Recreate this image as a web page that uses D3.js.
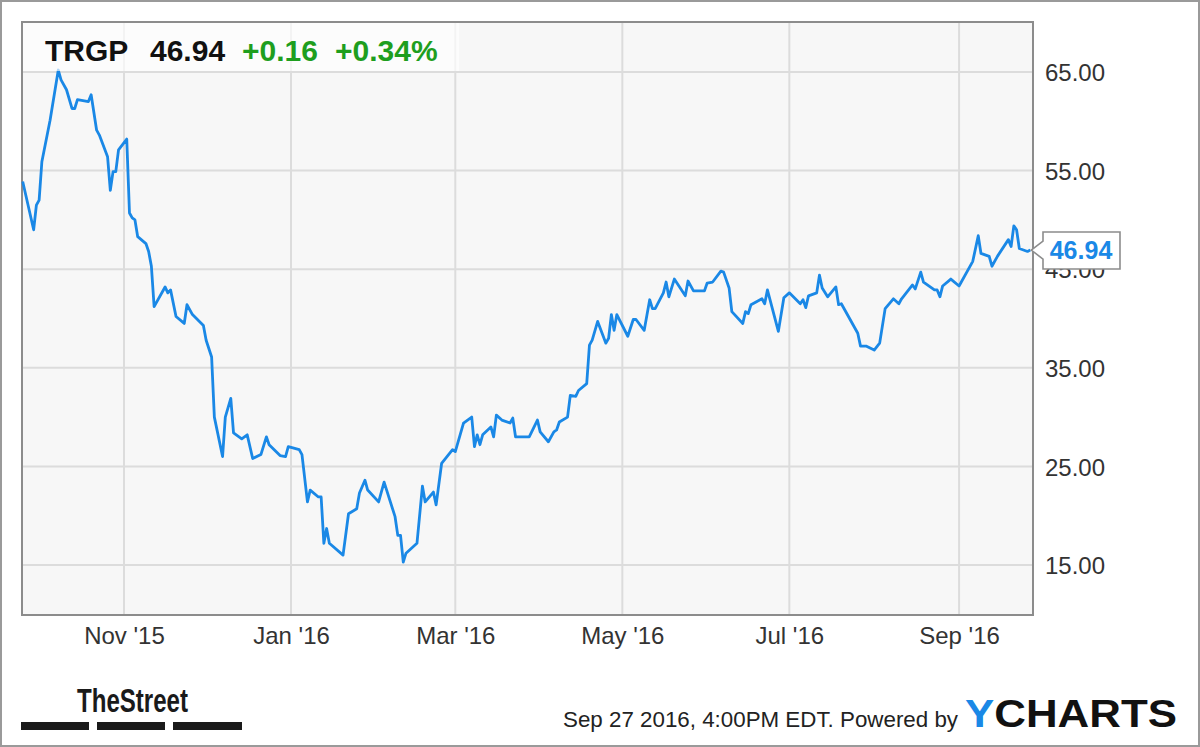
<!DOCTYPE html>
<html>
<head>
<meta charset="utf-8">
<script src="https://cdn.jsdelivr.net/npm/d3@7"></script>
<style>
  html, body { margin: 0; padding: 0; background: #fff; }
  svg { display: block; }
  text { font-family: "Liberation Sans", Arial, Helvetica, sans-serif; }
</style>
</head>
<body>
<svg id="chart" width="1200" height="747"></svg>
<script>
// ---- data ----
const ticker = "TRGP";
const lastPrice = "46.94";
const change = "+0.16";
const changePct = "+0.34%";
const timestamp = "Sep 27 2016, 4:00PM EDT.";
const poweredBy = "Powered by";

const dates = [
"2015-09-25","2015-09-29","2015-09-30","2015-10-01","2015-10-02","2015-10-05","2015-10-08","2015-10-09","2015-10-11","2015-10-13",
"2015-10-14","2015-10-15","2015-10-19","2015-10-20","2015-10-22","2015-10-23","2015-10-26","2015-10-27","2015-10-28","2015-10-29",
"2015-10-30","2015-11-02","2015-11-03","2015-11-04","2015-11-05","2015-11-06","2015-11-09","2015-11-10","2015-11-11","2015-11-12",
"2015-11-16","2015-11-17","2015-11-18","2015-11-20","2015-11-23","2015-11-24","2015-11-26","2015-11-30","2015-12-01","2015-12-03",
"2015-12-04","2015-12-07","2015-12-08","2015-12-10","2015-12-11","2015-12-14","2015-12-16","2015-12-18","2015-12-21","2015-12-23",
"2015-12-24","2015-12-28","2015-12-30","2015-12-31","2016-01-04","2016-01-05","2016-01-07","2016-01-08","2016-01-11","2016-01-12",
"2016-01-13","2016-01-14","2016-01-15","2016-01-20","2016-01-22","2016-01-25","2016-01-26","2016-01-28","2016-01-29","2016-02-02",
"2016-02-04","2016-02-08","2016-02-09","2016-02-10","2016-02-11","2016-02-12","2016-02-16","2016-02-18","2016-02-19","2016-02-22",
"2016-02-23","2016-02-25","2016-02-29","2016-03-01","2016-03-04","2016-03-07","2016-03-08","2016-03-09","2016-03-10","2016-03-11",
"2016-03-14","2016-03-15","2016-03-16","2016-03-18","2016-03-21","2016-03-22","2016-03-23","2016-03-28","2016-03-31","2016-04-01",
"2016-04-04","2016-04-06","2016-04-07","2016-04-08","2016-04-11","2016-04-12","2016-04-14","2016-04-15","2016-04-18","2016-04-19",
"2016-04-20","2016-04-22","2016-04-25","2016-04-26","2016-04-27","2016-04-28","2016-04-29","2016-05-03","2016-05-05","2016-05-06",
"2016-05-09","2016-05-11","2016-05-12","2016-05-13","2016-05-16","2016-05-17","2016-05-18","2016-05-20","2016-05-24","2016-05-25",
"2016-05-27","2016-05-31","2016-06-01","2016-06-03","2016-06-06","2016-06-07","2016-06-09","2016-06-10","2016-06-14","2016-06-15",
"2016-06-16","2016-06-17","2016-06-21","2016-06-22","2016-06-23","2016-06-27","2016-06-29","2016-07-01","2016-07-05","2016-07-06",
"2016-07-07","2016-07-08","2016-07-11","2016-07-12","2016-07-13","2016-07-15","2016-07-18","2016-07-19","2016-07-20","2016-07-26",
"2016-07-27","2016-07-29","2016-08-01","2016-08-03","2016-08-05","2016-08-08","2016-08-10","2016-08-11","2016-08-15","2016-08-16",
"2016-08-18","2016-08-19","2016-08-23","2016-08-24","2016-08-25","2016-08-26","2016-08-29","2016-09-01","2016-09-06","2016-09-08",
"2016-09-09","2016-09-12","2016-09-13","2016-09-15","2016-09-19","2016-09-20","2016-09-21","2016-09-22","2016-09-23","2016-09-26",
"2016-09-27"
];

const prices = [
53.9,49.0,51.5,52.0,55.9,60.1,65.2,64.2,63.2,61.3,
61.3,62.2,62.0,62.7,59.1,58.6,56.4,53.0,54.9,54.9,
57.1,58.2,50.7,50.2,50.0,48.3,47.6,46.8,45.3,41.2,
43.2,42.6,42.9,40.2,39.5,41.4,40.4,39.3,37.8,36.1,
30.0,26.0,30.0,31.9,28.4,27.8,28.2,25.8,26.2,28.0,
27.2,26.1,26.0,27.0,26.7,26.2,21.4,22.6,21.9,21.9,
17.2,18.7,17.2,16.0,20.2,20.7,22.3,23.6,22.6,21.4,
23.4,19.9,18.0,18.0,15.3,16.2,17.2,23.0,21.4,22.4,
21.1,25.3,26.7,26.5,29.4,30.0,27.0,28.2,27.2,28.2,
29.0,28.0,30.2,29.7,29.4,29.9,28.0,28.0,29.7,28.5,
27.5,28.5,28.7,29.5,30.0,32.2,32.1,32.7,33.4,37.3,
37.8,39.7,37.5,38.0,40.4,38.8,40.4,38.2,39.9,39.9,
38.8,41.9,41.0,41.0,42.6,43.7,42.2,44.0,42.3,43.8,
42.8,42.8,43.6,43.7,44.8,44.7,43.1,40.7,39.5,40.7,
40.5,41.4,42.0,41.5,42.9,38.7,42.1,42.6,41.5,41.9,
41.1,42.3,42.6,44.4,43.1,42.2,43.2,41.4,41.5,38.5,
37.2,37.2,36.8,37.5,41.0,42.0,41.5,42.0,43.4,43.0,
44.7,43.7,42.9,42.9,42.2,43.3,44.0,43.3,45.8,48.4,
46.6,46.3,45.3,46.3,48.0,47.3,49.4,49.0,47.1,46.8,
46.94
];

const yTicks = [15, 25, 35, 45, 55, 65];
const xTickDates = ["2015-11-01","2016-01-01","2016-03-01","2016-05-01","2016-07-01","2016-09-01"];
const xTickLabels = ["Nov '15","Jan '16","Mar '16","May '16","Jul '16","Sep '16"];

// ---- layout ----
const W = 1200, H = 747;
const plot = { left: 22, right: 1033, top: 22, bottom: 615 };
const parse = d3.utcParse("%Y-%m-%d");
const series = dates.map((d, i) => ({ date: parse(d), value: prices[i] }));

const x = d3.scaleUtc()
  .domain([parse("2015-09-25"), parse("2016-09-28")])
  .range([22.7, 1033]);
const y = d3.scaleLinear()
  .domain([10, 70])
  .range([614.3, 22.7]);

const svg = d3.select("#chart");

// outer frame
svg.append("rect").attr("x", 1).attr("y", 1).attr("width", W - 2).attr("height", H - 2)
  .attr("fill", "#fff").attr("stroke", "#9a9a9a").attr("stroke-width", 2);

// plot background
svg.append("rect")
  .attr("x", plot.left).attr("y", plot.top)
  .attr("width", plot.right - plot.left).attr("height", plot.bottom - plot.top)
  .attr("fill", "#f7f7f7");

// grid
const grid = svg.append("g");
grid.selectAll("line.h").data(yTicks).join("line")
  .attr("x1", plot.left).attr("x2", plot.right)
  .attr("y1", d => y(d)).attr("y2", d => y(d))
  .attr("stroke", "#dcdcdc").attr("stroke-width", 2);
grid.selectAll("line.v").data(xTickDates).join("line")
  .attr("x1", d => x(parse(d))).attr("x2", d => x(parse(d)))
  .attr("y1", plot.top).attr("y2", plot.bottom)
  .attr("stroke", "#dcdcdc").attr("stroke-width", 2);

// plot border
svg.append("rect")
  .attr("x", plot.left).attr("y", plot.top)
  .attr("width", plot.right - plot.left).attr("height", plot.bottom - plot.top)
  .attr("fill", "none").attr("stroke", "#8c8c8c").attr("stroke-width", 2);

// line
const line = d3.line().x(d => x(d.date)).y(d => y(d.value));
svg.append("path").datum(series)
  .attr("d", line)
  .attr("fill", "none")
  .attr("stroke", "#1a88e6")
  .attr("stroke-width", 2.8)
  .attr("stroke-linejoin", "round");

// header box
svg.append("rect").attr("x", plot.left + 1).attr("y", plot.top + 1)
  .attr("width", 436).attr("height", 48)
  .attr("fill", "#ffffff").attr("opacity", 0.65);
const hdr = svg.append("g").attr("font-weight", "bold").attr("font-size", 30);
hdr.append("text").attr("x", 45).attr("y", 61).attr("fill", "#111").text(ticker);
hdr.append("text").attr("x", 150).attr("y", 61).attr("fill", "#111").text(lastPrice);
hdr.append("text").attr("x", 242).attr("y", 61).attr("fill", "#1e9e1e").text(change);
hdr.append("text").attr("x", 335).attr("y", 61).attr("fill", "#1e9e1e").text(changePct);

// y axis (right)
const yAxis = d3.axisRight(y).tickValues(yTicks).tickSize(0).tickPadding(0)
  .tickFormat(d3.format(".2f"));
const gy = svg.append("g").attr("transform", `translate(1045,0)`).call(yAxis);
gy.select(".domain").remove();
gy.selectAll("text").attr("font-size", 24).attr("fill", "#333")
  .attr("font-family", "Liberation Sans, Arial, sans-serif").attr("dy", "0.36em");

// x axis (bottom)
const xAxis = d3.axisBottom(x).tickValues(xTickDates.map(parse)).tickSize(0).tickPadding(0)
  .tickFormat((d, i) => xTickLabels[i]);
const gx = svg.append("g").attr("transform", `translate(0,626)`).call(xAxis);
gx.select(".domain").remove();
gx.selectAll("text").attr("font-size", 24).attr("fill", "#333")
  .attr("font-family", "Liberation Sans, Arial, sans-serif").attr("dy", "0.75em");

// last price callout
const last = series[series.length - 1];
const ly = y(last.value);
const cx0 = x(last.date) + 1;
const callout = svg.append("g");
callout.append("path")
  .attr("d", `M${cx0},${ly} L${1043},${ly - 9} L1043,${ly - 18} L1120,${ly - 18} L1120,${ly + 19} L1043,${ly + 19} L1043,${ly + 9} Z`)
  .attr("fill", "#fff").attr("stroke", "#8c8c8c").attr("stroke-width", 1.6);
callout.append("text").attr("x", 1081).attr("y", ly + 9)
  .attr("text-anchor", "middle").attr("font-size", 25).attr("font-weight", "bold")
  .attr("fill", "#1a88e6").text(lastPrice);

// footer: TheStreet logo
svg.append("text").attr("x", 77).attr("y", 712)
  .attr("font-family", "Liberation Sans Narrow, Liberation Sans, Arial, sans-serif")
  .attr("font-weight", "bold").attr("font-size", 34).attr("fill", "#1a1a1a")
  .attr("textLength", 111).attr("lengthAdjust", "spacingAndGlyphs")
  .text("TheStreet");
[[21, 89], [97, 165], [173, 242]].forEach(([a, b]) => {
  svg.append("rect").attr("x", a).attr("y", 722).attr("width", b - a).attr("height", 8).attr("fill", "#1a1a1a");
});

// footer: timestamp + YCharts
svg.append("text").attr("x", 563).attr("y", 727).attr("font-size", 22).attr("fill", "#222")
  .attr("textLength", 395).attr("lengthAdjust", "spacingAndGlyphs")
  .text(timestamp + "  " + poweredBy);
const yc = svg.append("text").attr("x", 965).attr("y", 727)
  .attr("font-weight", "bold").attr("font-size", 38)
  .attr("textLength", 212).attr("lengthAdjust", "spacingAndGlyphs");
yc.append("tspan").attr("fill", "#1a88e6").text("Y");
yc.append("tspan").attr("fill", "#111").text("CHARTS");
</script>
</body>
</html>
